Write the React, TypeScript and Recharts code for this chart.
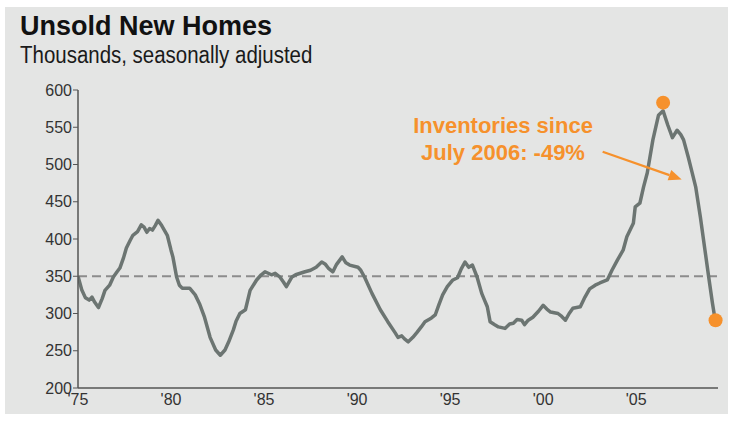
import React from 'react';
import { LineChart, Line, XAxis, YAxis, ReferenceLine, ReferenceDot } from 'recharts';

// Year (fractional) of each reading
const years = [
  1975.0, 1975.2, 1975.4, 1975.6, 1975.75, 1975.9, 1976.1, 1976.3, 1976.45, 1976.7,
  1976.9, 1977.1, 1977.25, 1977.45, 1977.6, 1977.8, 1977.95, 1978.2, 1978.4, 1978.55,
  1978.7, 1978.85, 1979.0, 1979.15, 1979.3, 1979.5, 1979.8, 1980.0, 1980.1, 1980.3,
  1980.45, 1980.6, 1981.0, 1981.3, 1981.55, 1981.8, 1982.1, 1982.4, 1982.65, 1982.9,
  1983.1, 1983.35, 1983.5, 1983.7, 1984.0, 1984.25, 1984.6, 1984.85, 1985.05, 1985.4,
  1985.6, 1985.85, 1986.05, 1986.2, 1986.5, 1986.7, 1986.95, 1987.2, 1987.5, 1987.8,
  1988.1, 1988.3, 1988.45, 1988.7, 1988.9, 1989.2, 1989.4, 1989.6, 1990.05, 1990.2,
  1990.4, 1990.8, 1991.25, 1991.65, 1992.05, 1992.2, 1992.4, 1992.55, 1992.75, 1993.0,
  1993.2, 1993.45, 1993.65, 1994.0, 1994.2, 1994.4, 1994.6, 1994.85, 1995.15, 1995.4,
  1995.6, 1995.8, 1996.0, 1996.2, 1996.45, 1996.7, 1996.85, 1997.0, 1997.15, 1997.4,
  1997.6, 1997.95, 1998.2, 1998.4, 1998.6, 1998.85, 1999.0, 1999.2, 1999.45, 1999.75,
  2000.0, 2000.2, 2000.4, 2000.8, 2001.0, 2001.2, 2001.4, 2001.6, 2002.0, 2002.25,
  2002.5, 2002.8, 2003.05, 2003.45, 2003.7, 2004.0, 2004.3, 2004.5, 2004.85, 2004.95,
  2005.2, 2005.4, 2005.6, 2005.9, 2006.2, 2006.45, 2006.7, 2006.95, 2007.2, 2007.4,
  2007.55, 2007.8, 2008.0, 2008.2, 2008.45, 2008.7, 2008.9, 2009.1, 2009.25,
];

// Unsold new homes, thousands, seasonally adjusted
const inventory = [
  350, 332, 321, 318, 322, 315, 308, 320, 331, 338,
  349, 356, 361, 375, 388, 398, 405, 410, 419, 416,
  409, 414, 412, 418, 425, 418, 405, 385, 376, 349,
  338, 334, 334, 325, 312, 295, 268, 251, 244, 251,
  262, 278, 290, 300, 305, 331, 345, 352, 356, 352,
  354, 349, 342, 336, 349, 352, 354, 356, 358, 362,
  369, 366, 361, 356, 366, 376, 368, 365, 362, 358,
  349, 327, 305, 289, 274, 268, 270, 266, 262, 268,
  274, 282, 289, 294, 298, 312, 325, 336, 345, 348,
  360, 369, 362, 365, 349, 327, 318, 309, 289, 285,
  282, 280, 286, 287, 292, 291, 285, 291, 295, 303,
  311, 306, 302, 300, 296, 291, 300, 307, 309, 322,
  333, 338, 341, 345, 358, 372, 385, 403, 421, 443,
  448, 470, 489, 533, 566, 572, 553, 536, 546, 540,
  533, 510, 490, 470, 430, 385, 349, 314, 291,
];

const yTicks = [200, 250, 300, 350, 400, 450, 500, 550, 600];
const xTickYears = [1975, 1980, 1985, 1990, 1995, 2000, 2005];
const xTickLabels = ["'75", "'80", "'85", "'90", "'95", "'00", "'05"];
const referenceValue = 350;

// Highlighted points: July 2006 peak and latest reading
const markerYears = [2006.45, 2009.27];
const markerValues = [583, 291];

// Annotation arrow, in data units
const arrowYears = [2003.2, 2007.45];
const arrowValues = [517, 480];

const annotationLines = ['Inventories since', 'July 2006: -49%'];

const data = years.map((year, i) => ({ year, value: inventory[i] }));

const ORANGE = '#f6912c';
const LINE = '#6c7572';
const AXIS = '#555';
const FONT = '"Liberation Sans", Arial, Helvetica, sans-serif';

const ArrowShape = (props: any) => {
  const { x1, y1, x2, y2 } = props;
  if ([x1, y1, x2, y2].some((v) => typeof v !== 'number' || isNaN(v))) return null;
  const ang = Math.atan2(y2 - y1, x2 - x1);
  const L = 13;
  const W = 5.5;
  const bx = x2 - L * Math.cos(ang);
  const by = y2 - L * Math.sin(ang);
  const px = -Math.sin(ang) * W;
  const py = Math.cos(ang) * W;
  return (
    <g>
      <line x1={x1} y1={y1} x2={bx} y2={by} stroke={ORANGE} strokeWidth={2.2} />
      <polygon
        points={`${x2},${y2} ${bx + px},${by + py} ${bx - px},${by - py}`}
        fill={ORANGE}
      />
    </g>
  );
};

export default function App() {
  return (
    <div style={{ position: 'absolute', left: 0, top: 0, width: 734, height: 425, background: '#fff' }}>
      <svg width={734} height={425} style={{ position: 'absolute', left: 0, top: 0 }}>
        <rect x={5} y={7} width={723} height={407} fill="#e4e5e4" />
        <text x={20} y={35} fontFamily={FONT} fontWeight="bold" fontSize={27} fill="#111">
          Unsold New Homes
        </text>
        <text
          transform="translate(20,63) scale(0.89,1)"
          fontFamily={FONT}
          fontSize={23}
          fill="#1a1a1a"
        >
          Thousands, seasonally adjusted
        </text>
        <text x={503} y={133} textAnchor="middle" fontFamily={FONT} fontWeight="bold" fontSize={22} fill={ORANGE}>
          {annotationLines[0]}
        </text>
        <text x={503} y={160} textAnchor="middle" fontFamily={FONT} fontWeight="bold" fontSize={22} fill={ORANGE}>
          {annotationLines[1]}
        </text>
      </svg>
      <div style={{ position: 'absolute', left: 0, top: 0 }}>
        <LineChart
          width={734}
          height={425}
          data={data}
          margin={{ top: 90, right: 16, bottom: 7, left: 0 }}
        >
          <XAxis
            dataKey="year"
            type="number"
            domain={[1975, 2009.4]}
            ticks={xTickYears}
            tickFormatter={(v: number) => xTickLabels[xTickYears.indexOf(v)] ?? ''}
            interval={0}
            tickLine={false}
            tickSize={4}
            tickMargin={2}
            height={30}
            allowDataOverflow
            axisLine={{ stroke: AXIS, strokeWidth: 1.5 }}
            tick={{ fill: '#333', fontSize: 16, fontFamily: FONT }}
          />
          <YAxis
            type="number"
            domain={[200, 600]}
            ticks={yTicks}
            interval={0}
            width={78}
            tickSize={5}
            tickMargin={1}
            allowDataOverflow
            axisLine={{ stroke: AXIS, strokeWidth: 1.5 }}
            tickLine={{ stroke: AXIS, strokeWidth: 1 }}
            tick={{ fill: '#333', fontSize: 16, fontFamily: FONT }}
          />
          <ReferenceLine
            y={referenceValue}
            stroke="#8c8c8c"
            strokeWidth={2}
            strokeDasharray="9 5"
          />
          <Line
            type="linear"
            dataKey="value"
            stroke={LINE}
            strokeWidth={3.5}
            dot={false}
            activeDot={false}
            isAnimationActive={false}
            strokeLinejoin="round"
          />
          <ReferenceLine
            segment={[
              { x: arrowYears[0], y: arrowValues[0] },
              { x: arrowYears[1], y: arrowValues[1] },
            ]}
            shape={ArrowShape}
            ifOverflow="visible"
          />
          {markerYears.map((yr, i) => (
            <ReferenceDot
              key={yr}
              x={yr}
              y={markerValues[i]}
              r={7}
              fill={ORANGE}
              stroke="none"
              ifOverflow="visible"
            />
          ))}
        </LineChart>
      </div>
    </div>
  );
}
